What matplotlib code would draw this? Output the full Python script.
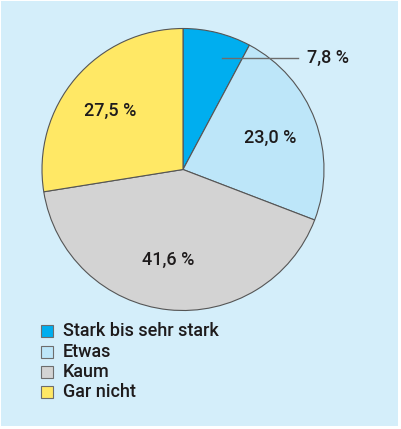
import matplotlib
matplotlib.use("Agg")
import matplotlib.pyplot as plt
from matplotlib.patches import Rectangle

categories = ["Stark bis sehr stark", "Etwas", "Kaum", "Gar nicht"]
values = [7.8, 23.0, 41.6, 27.5]
labels = ["7,8 %", "23,0 %", "41,6 %", "27,5 %"]
colors = ["#00aeef", "#bde6f9", "#d3d3d3", "#ffe865"]

W, H = 401, 429
fig = plt.figure(figsize=(W / 100, H / 100), dpi=100)
fig.patch.set_facecolor("white")
ax = fig.add_axes([0, 0, 1, 1])
ax.set_xlim(0, W)
ax.set_ylim(0, H)
ax.set_aspect("equal")
ax.axis("off")

# background panel
ax.add_patch(Rectangle((1, 3), 397, 425, facecolor="#d4eefa", edgecolor="none", zorder=0))

cx, cy, r = 183, H - 169.5, 141
wedges, _ = ax.pie(values, colors=colors, startangle=90, counterclock=False,
                   center=(cx, cy), radius=r, frame=True,
                   wedgeprops=dict(edgecolor="#555555", linewidth=0.8))
ax.set_xlim(0, W)
ax.set_ylim(0, H)
ax.axis("off")

font = dict(family="Roboto", weight="medium", color="#1e1b1c")
fs = 13
# label positions (pixel coords from top-left)
ax.plot([222, 298], [H - 58, H - 58], color="#6d6d6d", lw=1, zorder=5)
ax.text(307, H - 58, labels[0], ha="left", va="center", fontsize=fs, **font)
ax.text(270, H - 138, labels[1], ha="center", va="center", fontsize=fs, **font)
ax.text(168, H - 260, labels[2], ha="center", va="center", fontsize=fs, **font)
ax.text(110, H - 111, labels[3], ha="center", va="center", fontsize=fs, **font)

# legend
ys = [331, 352, 372, 392]
for cat, col, y in zip(categories, colors, ys):
    ax.add_patch(Rectangle((41, H - y - 6), 12, 12, facecolor=col,
                           edgecolor="#6d6d6d", linewidth=0.8, zorder=5))
    ax.text(63, H - y, cat, ha="left", va="center", fontsize=fs, **font)

fig.savefig("out.png", dpi=100, facecolor=fig.get_facecolor())
